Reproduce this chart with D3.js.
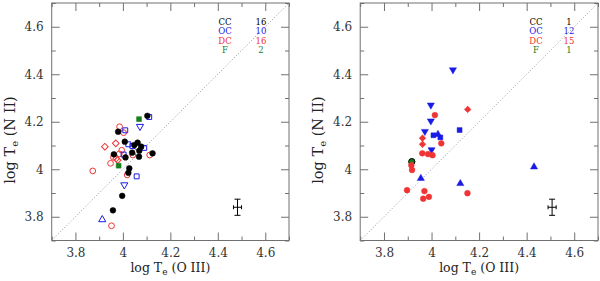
<!DOCTYPE html>
<html>
<head>
<meta charset="utf-8">
<script src="https://cdn.jsdelivr.net/npm/d3@7"></script>
<style>
body { margin:0; background:#fff; }
svg text { font-family:"DejaVu Serif", serif; }
</style>
</head>
<body>
<svg id="chart" width="600" height="281"></svg>
<script>
// axis ticks
var majorTicks = [3.8, 4, 4.2, 4.4, 4.6];
var minorTicks = [3.7, 3.9, 4.1, 4.3, 4.5, 4.7];

// legend
var groups = ["CC", "OC", "DC", "F"];
var countsLeft = [16, 10, 16, 2];
var countsRight = [1, 12, 15, 1];

// left panel : open symbols (m = marker kind)
var ccLeft = [
	{x:4.103,y:4.225,m:"circle"},{x:3.980,y:4.158,m:"circle"},{x:4.008,y:4.116,m:"circle"},
	{x:4.048,y:4.102,m:"circle"},{x:4.062,y:4.112,m:"circle"},{x:4.077,y:4.095,m:"circle"},
	{x:4.069,y:4.078,m:"circle"},{x:4.039,y:4.070,m:"circle"},{x:4.068,y:4.053,m:"circle"},
	{x:4.011,y:4.050,m:"circle"},{x:4.125,y:4.067,m:"circle"},{x:3.962,y:4.063,m:"circle"},
	{x:4.027,y:4.004,m:"circle"},{x:4.023,y:3.985,m:"circle"},{x:3.997,y:3.888,m:"circle"},
	{x:3.958,y:3.827,m:"circle"}
];
var ocLeft = [
	{x:4.111,y:4.220,m:"square"},{x:4.072,y:4.176,m:"down"},{x:4.010,y:4.164,m:"square"},
	{x:4.023,y:4.105,m:"square"},{x:4.090,y:4.090,m:"square"},{x:4.040,y:4.098,m:"square"},
	{x:4.003,y:4.062,m:"square"},{x:4.058,y:3.970,m:"square"},{x:4.006,y:3.930,m:"down"},
	{x:3.913,y:3.792,m:"up"}
];
var dcLeft = [
	{x:3.986,y:4.179,m:"circle"},{x:4.003,y:4.154,m:"circle"},{x:3.970,y:4.109,m:"diamond"},
	{x:3.924,y:4.095,m:"diamond"},{x:3.995,y:4.080,m:"circle"},{x:3.985,y:4.065,m:"circle"},
	{x:3.960,y:4.050,m:"circle"},{x:3.948,y:4.025,m:"circle"},{x:3.972,y:4.045,m:"diamond"},
	{x:3.978,y:4.038,m:"diamond"},{x:4.042,y:4.060,m:"circle"},{x:4.113,y:4.060,m:"circle"},
	{x:4.018,y:3.976,m:"circle"},{x:3.873,y:3.993,m:"circle"},{x:3.952,y:3.762,m:"circle"},
	{x:4.062,y:4.092,m:"circle"}
];
var fLeft = [
	{x:4.068,y:4.211,m:"square"},{x:3.982,y:4.015,m:"square"}
];

// right panel : filled symbols
var ccRight = [
	{x:3.917,y:4.032,m:"circle"}
];
var ocRight = [
	{x:4.090,y:4.414,m:"down"},{x:3.997,y:4.266,m:"down"},{x:3.997,y:4.199,m:"down"},
	{x:3.972,y:4.155,m:"down"},{x:4.000,y:4.078,m:"down"},{x:4.008,y:4.143,m:"square"},
	{x:4.027,y:4.151,m:"up"},{x:4.037,y:4.134,m:"square"},{x:4.118,y:4.165,m:"square"},
	{x:3.955,y:3.966,m:"up"},{x:4.121,y:3.944,m:"up"},{x:4.431,y:4.014,m:"up"}
];
var dcRight = [
	{x:4.014,y:4.228,m:"circle"},{x:4.152,y:4.252,m:"diamond"},{x:3.962,y:4.131,m:"diamond"},
	{x:3.962,y:4.105,m:"diamond"},{x:4.041,y:4.109,m:"circle"},{x:3.961,y:4.067,m:"circle"},
	{x:3.985,y:4.064,m:"circle"},{x:4.004,y:4.059,m:"circle"},{x:3.915,y:4.017,m:"circle"},
	{x:3.918,y:3.997,m:"circle"},{x:3.897,y:3.912,m:"circle"},{x:3.970,y:3.908,m:"circle"},
	{x:3.989,y:3.884,m:"circle"},{x:3.965,y:3.876,m:"circle"},{x:4.151,y:3.899,m:"circle"}
];
var fRight = [
	{x:3.917,y:4.032,m:"circle"}
];

// typical error bar : [x, y, dx, dy]
var errLeft = [4.483, 3.840, 0.017, 0.034];
var errRight = [4.507, 3.840, 0.017, 0.034];

var colors = {CC:"#000000", OC:"#1a1ae6", DC:"#f03434", F:"#17801a"};
var frameColor = "#707070";

var svg = d3.select("#chart");

var symTypes = {circle:d3.symbolCircle, square:d3.symbolSquare, up:d3.symbolTriangle, down:d3.symbolTriangle, diamond:d3.symbolSquare};
var symSizes = {circle:26, square:24, up:22, down:22, diamond:22};

function drawPanel(x0, x1, series, counts, err, legX) {
	var x = d3.scaleLinear().domain([3.7, 4.7]).range([x0, x1]);
	var y = d3.scaleLinear().domain([3.7, 4.7]).range([240.5, 3]);
	var g = svg.append("g");

	// axes, ticks pointing inwards on all sides
	function ax(axisFn, scale, vals, size, pad) {
		return axisFn(scale).tickValues(vals).tickSizeInner(-size).tickSizeOuter(0)
			.tickPadding(pad ? pad : 0).tickFormat(pad ? d3.format("") : "");
	}
	var defs = [
		[d3.axisBottom, x, "translate(0,240.5)", 7.5],
		[d3.axisTop, x, "translate(0,3)", 0],
		[d3.axisLeft, y, "translate(" + x0 + ",0)", 8],
		[d3.axisRight, y, "translate(" + x1 + ",0)", 0]
	];
	defs.forEach(function(d) {
		g.append("g").attr("transform", d[2]).call(ax(d[0], d[1], majorTicks, 8, d[3]));
		g.append("g").attr("transform", d[2]).call(ax(d[0], d[1], minorTicks, 4, 0));
	});
	g.selectAll(".domain").remove();
	g.selectAll(".tick line").attr("stroke", frameColor);
	g.selectAll(".tick text").attr("font-size", 12).attr("fill", "#333")
		.style("font-family", "'DejaVu Serif', serif");

	g.append("rect")
		.attr("x", x0).attr("y", 3)
		.attr("width", x1 - x0).attr("height", 237.5)
		.attr("fill", "none").attr("stroke", frameColor);

	// one-to-one line
	g.append("line")
		.attr("x1", x(3.7)).attr("y1", y(3.7))
		.attr("x2", x(4.7)).attr("y2", y(4.7))
		.attr("stroke", "#999").attr("stroke-dasharray", "1,2");

	// points
	series.forEach(function(s) {
		g.selectAll(null)
			.data(s.data)
			.enter().append("path")
				.attr("d", function(d) {return d3.symbol().type(symTypes[d.m]).size(s.size ? s.size : symSizes[d.m])();})
				.attr("transform", function(d) {
					var r = d.m == "down" ? 180 : (d.m == "diamond" ? 45 : 0);
					var dy = d.m == "up" ? 1 : (d.m == "down" ? -1 : 0);
					return "translate(" + x(d.x) + "," + (y(d.y) + dy) + ") rotate(" + r + ")";
				})
				.attr("fill", s.open ? "none" : colors[s.name])
				.attr("stroke", colors[s.name])
				.attr("stroke-width", s.open ? 1 : 0.5);
	});

	// error bar
	var eb = g.append("g").attr("stroke", "#000").attr("stroke-width", 1);
	eb.append("line").attr("x1", x(err[0] - err[2])).attr("x2", x(err[0] + err[2]))
		.attr("y1", y(err[1])).attr("y2", y(err[1]));
	eb.append("line").attr("x1", x(err[0])).attr("x2", x(err[0]))
		.attr("y1", y(err[1] - err[3])).attr("y2", y(err[1] + err[3]));
	eb.append("line").attr("x1", x(err[0]) - 3).attr("x2", x(err[0]) + 3)
		.attr("y1", y(err[1] - err[3])).attr("y2", y(err[1] - err[3]));
	eb.append("line").attr("x1", x(err[0]) - 3).attr("x2", x(err[0]) + 3)
		.attr("y1", y(err[1] + err[3])).attr("y2", y(err[1] + err[3]));
	eb.append("line").attr("x1", x(err[0] - err[2])).attr("x2", x(err[0] - err[2]))
		.attr("y1", y(err[1]) - 2).attr("y2", y(err[1]) + 2);
	eb.append("line").attr("x1", x(err[0] + err[2])).attr("x2", x(err[0] + err[2]))
		.attr("y1", y(err[1]) - 2).attr("y2", y(err[1]) + 2);

	// legend
	var lg = g.append("g").attr("font-size", 8.5).attr("text-anchor", "middle");
	groups.forEach(function(name, i) {
		lg.append("text").attr("x", legX[0]).attr("y", 25 + i * 9.3).attr("fill", colors[name]).text(name);
		lg.append("text").attr("x", legX[1]).attr("y", 25 + i * 9.3).attr("fill", colors[name]).text(counts[i]);
	});

	// axis titles
	var xt = g.append("text").attr("x", (x0 + x1) / 2).attr("y", 272)
		.attr("text-anchor", "middle").attr("font-size", 12.5).attr("fill", "#222");
	xt.append("tspan").text("log T");
	xt.append("tspan").attr("font-size", 9).attr("dy", 3).text("e");
	xt.append("tspan").attr("dy", -3).text(" (O III)");

	var yt = g.append("text")
		.attr("transform", "translate(" + (x0 - 37) + ",140) rotate(-90)")
		.attr("text-anchor", "middle").attr("font-size", 14.5).attr("fill", "#222");
	yt.append("tspan").text("log T");
	yt.append("tspan").attr("font-size", 10).attr("dy", 3).text("e");
	yt.append("tspan").attr("dy", -3).text(" (N II)");
}

drawPanel(51.7, 289, [
	{name:"DC", data:dcLeft, open:true},
	{name:"OC", data:ocLeft, open:true},
	{name:"F", data:fLeft, open:false},
	{name:"CC", data:ccLeft, open:false}
], countsLeft, errLeft, [225, 261]);

drawPanel(360.2, 598, [
	{name:"F", data:fRight, open:false, size:30},
	{name:"CC", data:ccRight, open:true, size:30},
	{name:"OC", data:ocRight, open:false},
	{name:"DC", data:dcRight, open:false}
], countsRight, errRight, [536, 569]);
</script>
</body>
</html>
